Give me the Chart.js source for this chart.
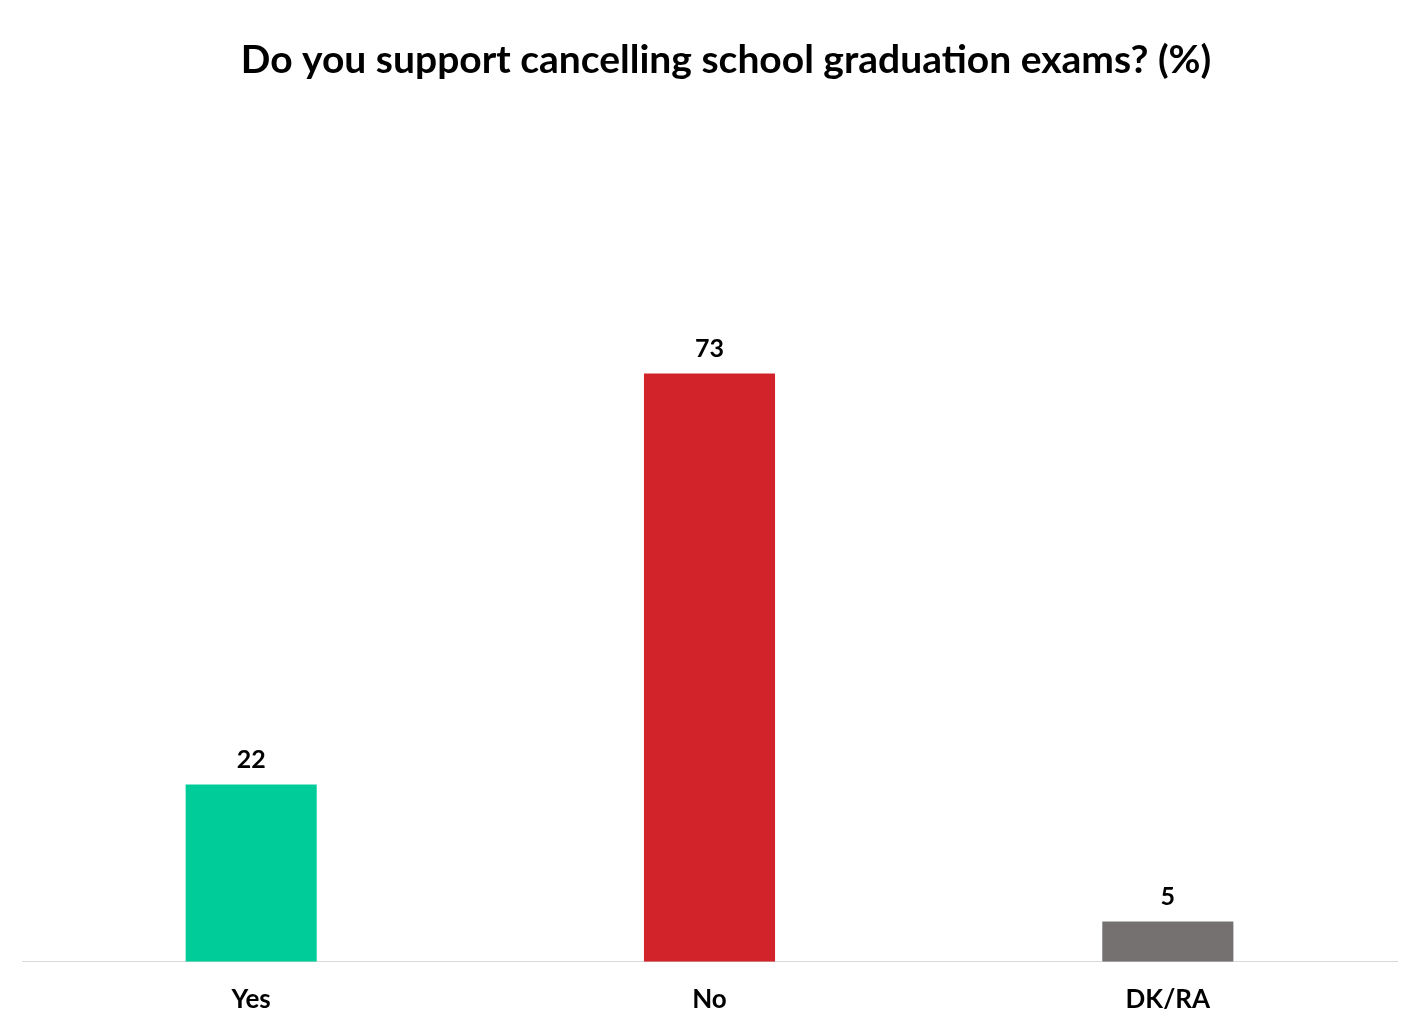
<!DOCTYPE html>
<html lang="en">
<head>
    <meta charset="UTF-8">
    <title>Do you support cancelling school graduation exams?</title>
    <script src="https://cdn.jsdelivr.net/npm/chart.js"></script>
    <style>
        body { margin: 0; background: #fff; }
        #wrap { width: 1420px; height: 1031px; }
    </style>
</head>
<body>
    <div id="wrap"><canvas id="examChart"></canvas></div>
    <script>
        const chartTitle = 'Do you support cancelling school graduation exams? (%)';
        const categories = ['Yes', 'No', 'DK/RA'];
        const values = [22, 73, 5];
        const barColors = ['#00CC99', '#D2232A', '#767171'];

        // draws the number above each bar
        const valueLabels = {
            id: 'valueLabels',
            afterDatasetsDraw(chart) {
                const c = chart.ctx;
                const meta = chart.getDatasetMeta(0);
                c.save();
                c.font = 'bold 25px Lato';
                c.fillStyle = '#000';
                c.textAlign = 'center';
                c.textBaseline = 'bottom';
                meta.data.forEach((bar, i) => {
                    c.fillText(values[i], bar.x, bar.y - 12);
                });
                c.restore();
            }
        };

        // title sits a bit right of the plot centre in the original
        const titleText = {
            id: 'titleText',
            afterDraw(chart) {
                const c = chart.ctx;
                c.save();
                c.font = 'bold 39px Lato';
                c.fillStyle = '#000';
                c.textAlign = 'center';
                c.textBaseline = 'middle';
                c.fillText(chartTitle, chart.width / 2 + 16, 60);
                c.restore();
            }
        };

        const ctx = document.getElementById('examChart').getContext('2d');
        new Chart(ctx, {
            type: 'bar',
            data: {
                labels: categories,
                datasets: [{
                    data: values,
                    backgroundColor: barColors,
                    barPercentage: 0.286,
                    categoryPercentage: 1
                }]
            },
            options: {
                responsive: true,
                maintainAspectRatio: false,
                animation: false,
                layout: { padding: { left: 22, right: 23, top: 152, bottom: 2 } },
                plugins: {
                    legend: { display: false },
                    tooltip: { enabled: false },
                    title: { display: false }
                },
                scales: {
                    x: {
                        grid: { display: false, tickLength: 8 },
                        border: { color: '#D9D9D9', width: 1 },
                        ticks: {
                            color: '#000',
                            padding: 14,
                            font: { family: 'Lato', size: 26, weight: 'bold' }
                        }
                    },
                    y: {
                        display: false,
                        min: 0,
                        max: 100.5
                    }
                }
            },
            plugins: [valueLabels, titleText]
        });
    </script>
</body>
</html>
